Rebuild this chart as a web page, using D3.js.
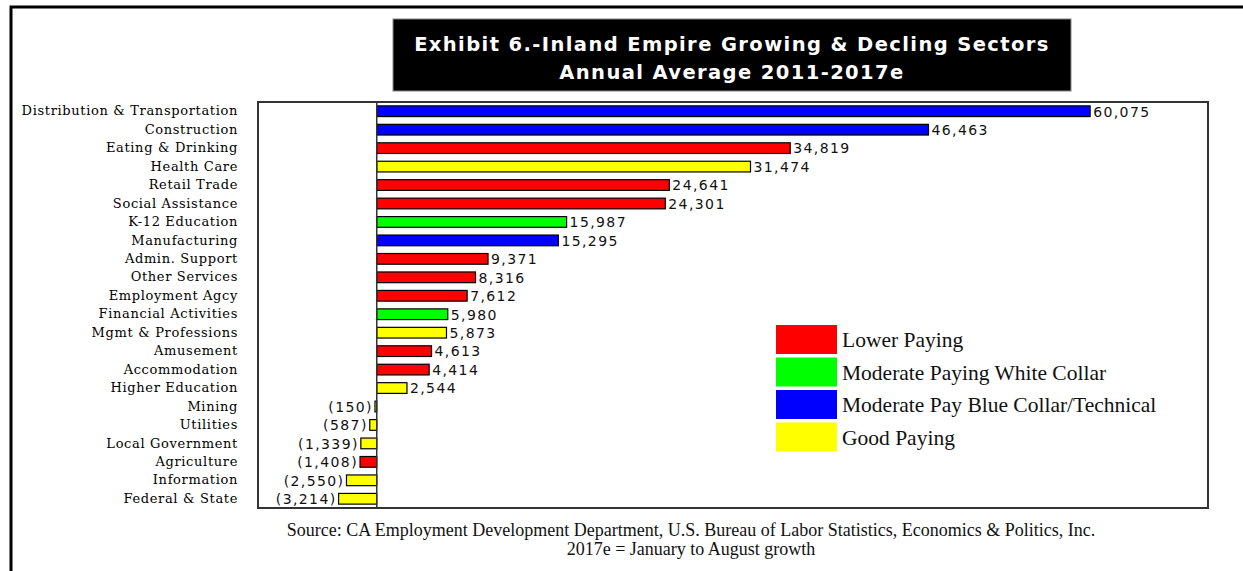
<!DOCTYPE html>
<html>
<head>
<meta charset="utf-8">
<script src="https://cdn.jsdelivr.net/npm/d3@7"></script>
<style>
  body { margin: 0; background: #fff; }
  svg { display: block; }
</style>
</head>
<body>
<svg id="chart" width="1243" height="571"></svg>
<script>
// sectors, top to bottom
const sectors = ['Distribution & Transportation', 'Construction', 'Eating & Drinking', 'Health Care',
  'Retail Trade', 'Social Assistance', 'K-12 Education', 'Manufacturing', 'Admin. Support',
  'Other Services', 'Employment Agcy', 'Financial Activities', 'Mgmt & Professions', 'Amusement',
  'Accommodation', 'Higher Education', 'Mining', 'Utilities', 'Local Government', 'Agriculture',
  'Information', 'Federal & State'];
const growth = [60075, 46463, 34819, 31474, 24641, 24301, 15987, 15295, 9371, 8316, 7612, 5980,
  5873, 4613, 4414, 2544, -150, -587, -1339, -1408, -2550, -3214];
const payGroup = ['blue', 'blue', 'low', 'good', 'low', 'low', 'white', 'blue', 'low', 'low', 'low',
  'white', 'good', 'low', 'low', 'good', 'good', 'good', 'good', 'low', 'good', 'good'];
const groupKeys = ['low', 'white', 'blue', 'good'];
const groupNames = ['Lower Paying', 'Moderate Paying White Collar', 'Moderate Pay Blue Collar/Technical', 'Good Paying'];
const groupColors = ['#ff0000', '#00ff00', '#0000ff', '#ffff00'];

const svg = d3.select('#chart');

// outer frame (right and bottom edges fall outside the picture)
svg.append('rect')
  .attr('x', 11).attr('y', 7).attr('width', 1260).attr('height', 600)
  .attr('fill', 'none').attr('stroke', '#000').attr('stroke-width', 3);

// title box
svg.append('rect')
  .attr('x', 393).attr('y', 19).attr('width', 678).attr('height', 72)
  .attr('fill', '#000').attr('stroke', '#888').attr('stroke-width', 1);
const titleLines = ['Exhibit 6.-Inland Empire Growing & Decling Sectors', 'Annual Average 2011-2017e'];
svg.append('g').selectAll('text').data(titleLines).enter()
  .append('text')
  .attr('x', 732)
  .attr('y', (d, i) => { return 51 + i * 28; })
  .attr('text-anchor', 'middle')
  .attr('font-family', 'DejaVu Sans, Verdana, sans-serif')
  .attr('font-weight', 'bold').attr('font-size', '19.5px')
  .attr('letter-spacing', '1.4px')
  .attr('fill', '#fff')
  .text((d) => { return d; });

const plot = { left: 258, right: 1208, top: 102, bottom: 508 };

const x = d3.scaleLinear()
  .domain([-10000, 70000])
  .range([plot.left, plot.right]);

const y = d3.scaleBand()
  .domain(sectors)
  .range([plot.top, plot.bottom])
  .paddingInner(0.42)
  .paddingOuter(0.21);

const color = d3.scaleOrdinal().domain(groupKeys).range(groupColors);

const rows = sectors.map((s, i) => ({ name: s, value: growth[i], group: payGroup[i] }));

// plot frame
svg.append('rect')
  .attr('x', plot.left).attr('y', plot.top)
  .attr('width', plot.right - plot.left).attr('height', plot.bottom - plot.top)
  .attr('fill', '#fff').attr('stroke', '#333').attr('stroke-width', 2);

// category labels
const yAxis = svg.append('g')
  .attr('transform', `translate(${plot.left - 20},0)`)
  .call(d3.axisLeft(y).tickSize(0).tickPadding(0));
yAxis.select('.domain').remove();
yAxis.selectAll('text')
  .attr('font-family', 'DejaVu Serif, serif')
  .attr('font-size', '13px')
  .attr('letter-spacing', '0.65px')
  .attr('fill', '#000');

// bars
svg.append('g').selectAll('rect').data(rows).enter()
  .append('rect')
  .attr('x', (d) => { return x(Math.min(0, d.value)); })
  .attr('y', (d) => { return y(d.name); })
  .attr('width', (d) => { return Math.abs(x(d.value) - x(0)); })
  .attr('height', y.bandwidth())
  .attr('fill', (d) => { return color(d.group); })
  .attr('stroke', '#000')
  .attr('stroke-width', 1.2);

// zero line
svg.append('line')
  .attr('x1', x(0)).attr('x2', x(0))
  .attr('y1', plot.top).attr('y2', plot.bottom)
  .attr('stroke', '#333').attr('stroke-width', 1.5);

// value labels
const fmt = d3.format(',');
svg.append('g').selectAll('text').data(rows).enter()
  .append('text')
  .attr('x', (d) => { return d.value >= 0 ? x(d.value) + 3 : x(d.value) - 2; })
  .attr('y', (d) => { return y(d.name) + y.bandwidth() / 2; })
  .attr('dy', '0.38em')
  .attr('text-anchor', (d) => { return d.value >= 0 ? 'start' : 'end'; })
  .attr('font-family', 'DejaVu Sans, Verdana, sans-serif')
  .attr('font-size', '14px')
  .attr('letter-spacing', '1.4px')
  .attr('fill', '#111')
  .text((d) => { return d.value >= 0 ? fmt(d.value) : `(${fmt(-d.value)})`; });

// legend
const legend = svg.append('g').attr('transform', 'translate(776,325)');
const item = legend.selectAll('g').data(groupKeys).enter()
  .append('g')
  .attr('transform', (d, i) => { return `translate(0,${i * 32.5})`; });
item.append('rect')
  .attr('width', 61).attr('height', 29)
  .attr('fill', (d) => { return color(d); });
item.append('text')
  .attr('x', 66).attr('y', 14.5).attr('dy', '0.35em')
  .attr('font-family', 'Liberation Serif, Times New Roman, serif')
  .attr('font-size', '21.5px')
  .attr('fill', '#111')
  .text((d, i) => { return groupNames[i]; });

// source note
const notes = ['Source:  CA Employment Development Department, U.S. Bureau of Labor Statistics, Economics & Politics, Inc.',
  '2017e = January to August  growth'];
svg.append('g').selectAll('text').data(notes).enter()
  .append('text')
  .attr('x', 691)
  .attr('y', (d, i) => { return 536 + i * 19; })
  .attr('text-anchor', 'middle')
  .attr('font-family', 'Liberation Serif, Times New Roman, serif')
  .attr('font-size', '18px')
  .attr('fill', '#111')
  .text((d) => { return d; });
</script>
</body>
</html>
